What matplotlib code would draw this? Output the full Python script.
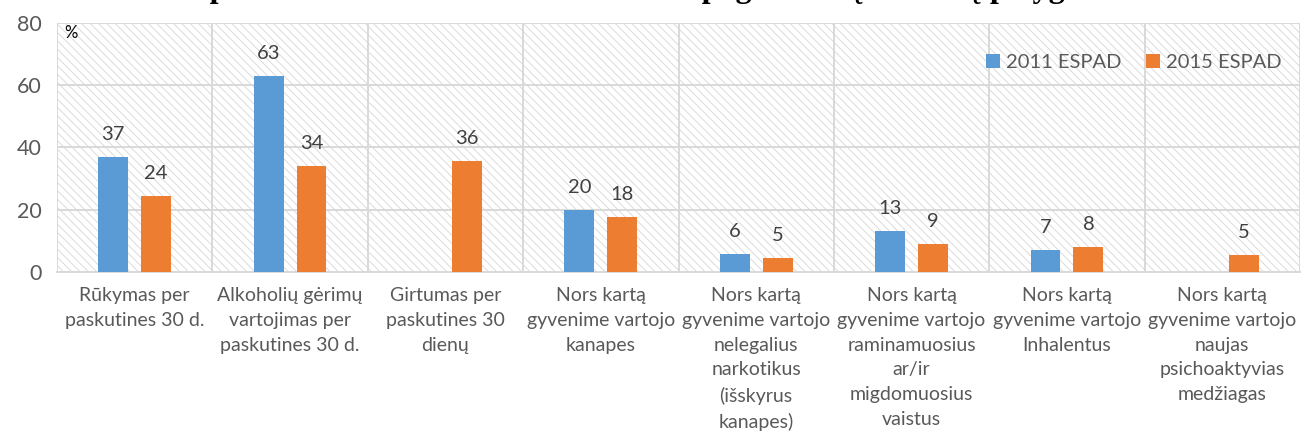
import numpy as np
import matplotlib
matplotlib.use("Agg")
import matplotlib.pyplot as plt
from matplotlib.patches import Rectangle

categories = [
    "Rūkymas per\npaskutines 30 d.",
    "Alkoholių gėrimų\nvartojimas per\npaskutines 30 d.",
    "Girtumas per\npaskutines 30\ndienų",
    "Nors kartą\ngyvenime vartojo\nkanapes",
    "Nors kartą\ngyvenime vartojo\nnelegalius\nnarkotikus\n(išskyrus\nkanapes)",
    "Nors kartą\ngyvenime vartojo\nraminamuosius\nar/ir\nmigdomuosius\nvaistus",
    "Nors kartą\ngyvenime vartojo\nInhalentus",
    "Nors kartą\ngyvenime vartojo\nnaujas\npsichoaktyvias\nmedžiagas",
]
series_names = ["2011 ESPAD", "2015 ESPAD"]
values_2011 = [36.9, 63.0, np.nan, 19.9, 5.8, 13.1, 7.0, np.nan]
values_2015 = [24.4, 34.0, 35.8, 17.6, 4.6, 8.9, 8.0, 5.4]
y_ticks = [0, 20, 40, 60, 80]
title = "ESPAD apklausos 2011 ir 2015 m. rezultatai: pagrindinių rodiklių palyginimas"
unit_label = "%"

colors = ["#5B9BD5", "#ED7D31"]
grid_color = "#D9D9D9"
text_color = "#404040"
tick_color = "#595959"
font = "Lato"

fig = plt.figure(figsize=(13.04, 4.38), dpi=100)
ax = fig.add_axes([57 / 1304, 1 - 272 / 438, (1300 - 57) / 1304, (272 - 23) / 438])

plt.rcParams["hatch.color"] = "#D6D6D6"
plt.rcParams["hatch.linewidth"] = 0.6
bg = Rectangle((0, 0), 1, 1, transform=ax.transAxes, facecolor="white",
               edgecolor="#D6D6D6", hatch="\\\\\\\\", linewidth=0, zorder=0)
ax.add_patch(bg)

x = np.arange(len(categories))
width = 0.193
offset = 0.138
b1 = ax.bar(x - offset, values_2011, width, color=colors[0], label=series_names[0], zorder=3)
b2 = ax.bar(x + offset, values_2015, width, color=colors[1], label=series_names[1], zorder=3)

for bars, vals in ((b1, values_2011), (b2, values_2015)):
    labels = ["" if np.isnan(v) else f"{v:.0f}" for v in vals]
    ax.bar_label(bars, labels=labels, padding=10, fontsize=14.5, color=text_color,
                 family=font)

ax.set_xlim(-0.5, len(categories) - 0.5)
ax.set_ylim(0, 80)
ax.set_yticks(y_ticks)
ax.set_xticks(x)
ax.set_xticklabels(categories, fontsize=14, color=tick_color, family=font,
                   linespacing=1.55)
ax.set_xticks(np.arange(-0.5, len(categories), 1), minor=True)
ax.tick_params(axis="x", which="both", length=0, pad=11)
ax.tick_params(axis="y", length=0, pad=11, labelsize=15.5, labelcolor=tick_color)
for lbl in ax.get_yticklabels():
    lbl.set_family(font)

ax.grid(axis="y", color=grid_color, linewidth=1.4, zorder=1)
ax.grid(axis="x", which="minor", color=grid_color, linewidth=1.4, zorder=1)
ax.grid(axis="x", which="major", visible=False)
ax.set_axisbelow(True)
for s in ["top", "right", "left"]:
    ax.spines[s].set_visible(False)
ax.spines["bottom"].set_color(grid_color)
ax.spines["bottom"].set_linewidth(1.4)

ax.text(0.006, 0.96, unit_label, transform=ax.transAxes, fontsize=12,
        color="black", family=font, va="center", ha="left")

leg = ax.legend(loc="center right", bbox_to_anchor=(1.0, 0.843), ncol=2,
                frameon=False, handlelength=0.7, handleheight=0.7,
                handletextpad=0.3, columnspacing=1.2,
                prop={"family": font, "size": 14.5})
for t in leg.get_texts():
    t.set_color(tick_color)

fig.text(0.4747, 1.006, title, ha="center", va="baseline", fontsize=23,
         family="Liberation Serif", weight="bold", color="black")

fig.savefig("out.png", dpi=100)
